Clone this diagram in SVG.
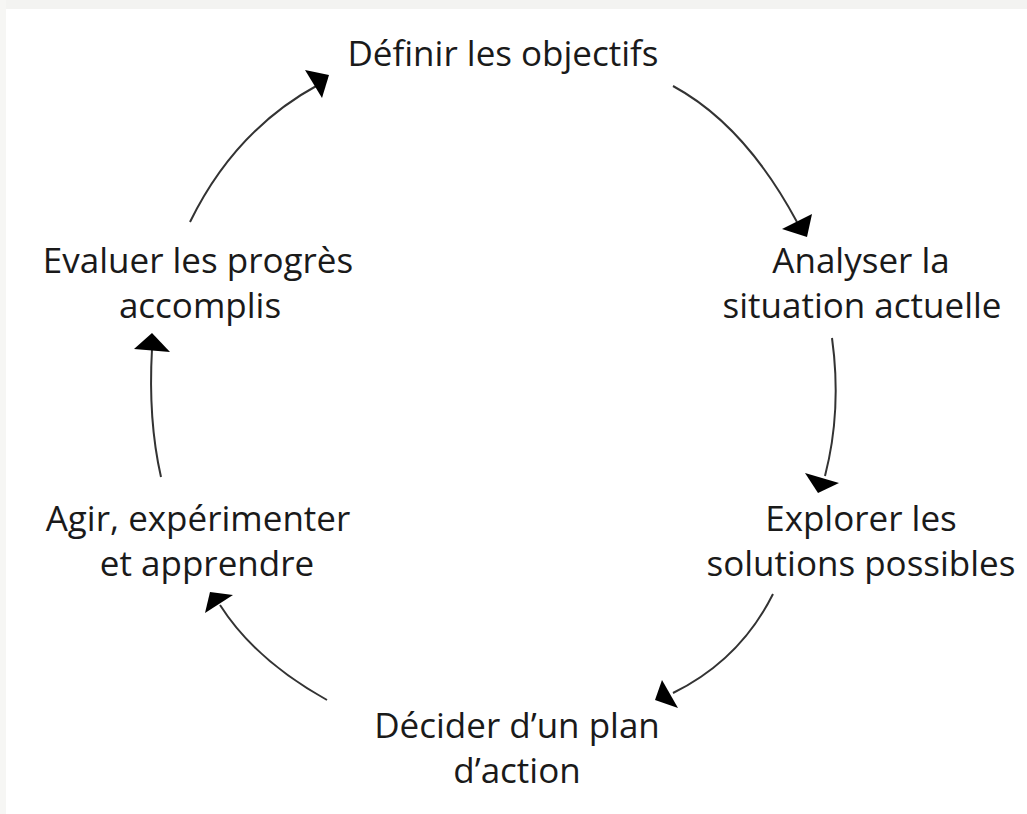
<svg xmlns="http://www.w3.org/2000/svg" width="1027" height="814" viewBox="0 0 1027 814">
<style>
.t{font-family:"Open Sans","Liberation Sans",sans-serif;font-size:35px;fill:#1a1a1a;text-anchor:middle}
.c{fill:none;stroke:#333;stroke-width:2}
.h{fill:#000}
</style>
<rect width="1027" height="814" fill="#fff"/>
<rect width="1027" height="9" fill="#f3f3f1"/>
<rect width="6" height="814" fill="#f6f6f4"/>
<g id="n1"><text class="t" x="503" y="66">Définir les objectifs</text></g>
<g id="n2"><text class="t" x="861" y="273">Analyser la</text><text class="t" x="862" y="318">situation actuelle</text></g>
<g id="n3"><text class="t" x="861" y="531">Explorer les</text><text class="t" x="861" y="576">solutions possibles</text></g>
<g id="n4"><text class="t" x="517" y="738">Décider d’un plan</text><text class="t" x="517" y="783">d’action</text></g>
<g id="n5"><text class="t" x="198" y="531">Agir, expérimenter</text><text class="t" x="207" y="576">et apprendre</text></g>
<g id="n6"><text class="t" x="198" y="273">Evaluer les progrès</text><text class="t" x="200" y="318">accomplis</text></g>
<g id="connectors">
<path class="c" d="M673,86 Q745,125 797,222"/>
<polygon class="h" points="782,229 812,214 807,237"/>
<path class="c" d="M832,338 Q842,410 825,476"/>
<polygon class="h" points="805,473 839,483 818,493"/>
<path class="c" d="M773,594 Q740,660 673,693"/>
<polygon class="h" points="662,680 678,708 655,700"/>
<path class="c" d="M327,700 Q255,660 220,605"/>
<polygon class="h" points="233,595 205,613 210,592"/>
<path class="c" d="M161,477 Q148,420 152,349"/>
<polygon class="h" points="134,349 170,352 152,333"/>
<path class="c" d="M190,222 Q235,130 318,85"/>
<polygon class="h" points="305,70 322,98 329,75"/>
</g>
</svg>
